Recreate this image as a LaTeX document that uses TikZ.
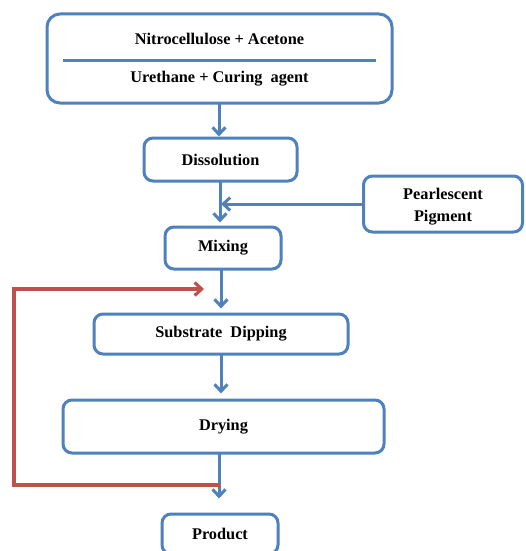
\documentclass[tikz,border=0pt]{standalone}
\usepackage{fontspec}
\setmainfont{Liberation Serif}
\usetikzlibrary{arrows.meta,calc}
\definecolor{boxblue}{RGB}{79,129,189}
\definecolor{loopred}{RGB}{192,80,77}
\tikzset{
  stepbox/.style={draw=boxblue, line width=3pt, rounded corners=9pt, fill=white,
    font=\fontsize{16.3}{22}\selectfont\bfseries, align=center, inner sep=0pt},
  arr/.style={draw=boxblue, line width=3pt, -{Straight Barb[length=7pt,width=13pt,line width=3pt]}},
  redarr/.style={draw=loopred, line width=3.2pt, -{Straight Barb[length=7pt,width=13pt,line width=3.2pt]}},
  lbl/.style={font=\fontsize{16.3}{22}\selectfont\bfseries, align=center}
}
\begin{document}
\begin{tikzpicture}[x=1pt,y=-1pt]
\clip (0,0) rectangle (525,551);
\fill[white] (0,0) rectangle (525,551);
% nodes
\node[stepbox, rounded corners=13pt, minimum width=345pt, minimum height=89pt] (top) at (219.5,58.5) {};
\node[lbl] (t1) at (219.5,39) {Nitrocellulose + Acetone};
\node[lbl] (t2) at (219.5,79) {Urethane + Curing~ agent};
\coordinate (dl) at (63,61);
\coordinate (dr) at (376,61);
\draw[boxblue, line width=3pt] (dl) -- (dr);
\node[stepbox, minimum width=153pt, minimum height=43pt] (dis) at (220.5,159.5) {Dissolution};
\node[stepbox, minimum width=159pt, minimum height=56pt] (pearl) at (443,204) {};
\node[lbl] (pt) at (443,206.5) {Pearlescent\\Pigment};
\node[stepbox, minimum width=116pt, minimum height=42pt] (mix) at (223,248) {Mixing};
\node[stepbox, minimum width=254pt, minimum height=40pt] (sub) at (221,334) {Substrate~ Dipping};
\node[stepbox, minimum width=321pt, minimum height=53pt] (dry) at (223.5,426.5) {Drying};
\node[stepbox, minimum width=116pt, minimum height=40pt] (prod) at (220,534) {Product};
% blue connectors
\coordinate (a1) at (219,103);
\draw[arr] (a1) -- (a1 |- dis.north);
\coordinate (a2) at (220,181);
\draw[arr, shorten >=3pt] (a2) -- (a2 |- mix.north);
\draw[arr, shorten >=1pt] (pearl.west) -- (pearl.west -| a2);
\coordinate (a3) at (221,269);
\draw[arr, shorten >=4pt] (a3) -- (a3 |- sub.north);
\coordinate (a4) at (221,354);
\draw[arr, shorten >=5pt] (a4) -- (a4 |- dry.north);
\coordinate (a5) at (219,453);
\draw[arr, shorten >=14pt] (a5) -- (a5 |- prod.north);
% red loop
\coordinate (rs) at (220,485);
\coordinate (rc) at (14,289);
\coordinate (re) at (204,289);
\draw[redarr] (rs) -| (rc) -- (re);
\end{tikzpicture}
\end{document}
